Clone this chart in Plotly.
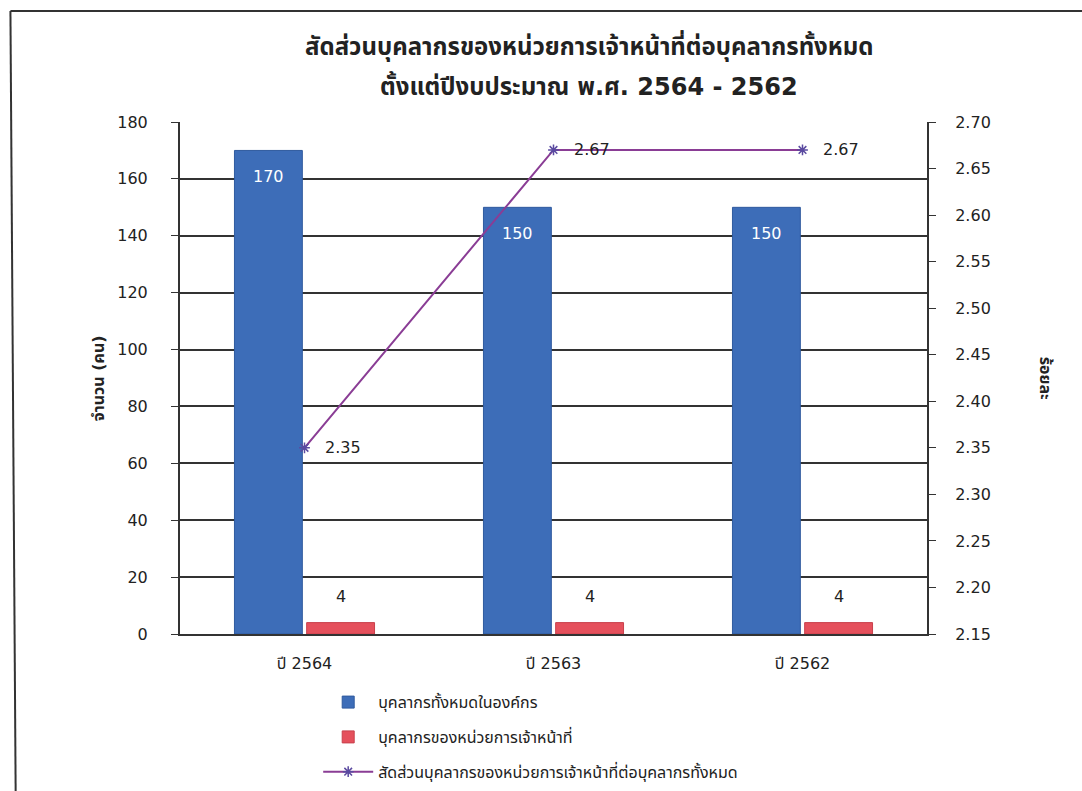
import plotly.graph_objects as go

categories = ["ปี 2564", "ปี 2563", "ปี 2562"]
total_staff = [170, 150, 150]
unit_staff = [4, 4, 4]
ratio_pct = [2.35, 2.67, 2.67]

name_total = "บุคลากรทั้งหมดในองค์กร"
name_unit = "บุคลากรของหน่วยการเจ้าหน้าที่"
name_ratio = "สัดส่วนบุคลากรของหน่วยการเจ้าหน้าที่ต่อบุคลากรทั้งหมด"
title_lines = ["สัดส่วนบุคลากรของหน่วยการเจ้าหน้าที่ต่อบุคลากรทั้งหมด",
               "ตั้งแต่ปีงบประมาณ พ.ศ. 2564 - 2562"]

FONT = "DejaVu Sans, Noto Sans Thai, Tahoma, sans-serif"
TXT = "#222"

fig = go.Figure()
fig.add_trace(go.Bar(
    x=categories, y=total_staff, name=name_total, legendgroup="a",
    marker=dict(color="#3D6DB8", line=dict(color="#2F5A9E", width=1)),
))
fig.add_trace(go.Bar(
    x=categories, y=unit_staff, name=name_unit, legendgroup="b",
    marker=dict(color="#E5505C", line=dict(color="#C8404C", width=1)),
))
fig.add_trace(go.Scatter(
    x=categories, y=ratio_pct, name=name_ratio, yaxis="y2", legendgroup="c",
    mode="lines+markers",
    line=dict(color="#8A3D95", width=2),
    marker=dict(symbol="asterisk-open", size=9, color="#5A4AA0",
                line=dict(color="#5A4AA0", width=1.5)),
    cliponaxis=False,
))

annotations = []
for c, v in zip(categories, total_staff):
    annotations.append(dict(x=c, y=v, xref="x", yref="y", text=str(v),
                            showarrow=False, yshift=-26, xshift=-36,
                            font=dict(size=16, color="white", family=FONT)))
for c, v in zip(categories, unit_staff):
    annotations.append(dict(x=c, y=v, xref="x", yref="y", text=str(v),
                            showarrow=False, yshift=26, xshift=36,
                            font=dict(size=16, color=TXT, family=FONT)))
for c, v in zip(categories, ratio_pct):
    annotations.append(dict(x=c, y=v, xref="x", yref="y2", text=f"{v:.2f}",
                            showarrow=False, xanchor="left", xshift=18,
                            font=dict(size=16, color=TXT, family=FONT)))
annotations.append(dict(x=-0.125, y=0.5, xref="paper", yref="paper",
                        text="<b>จำนวน (คน)</b>", textangle=-90, showarrow=False,
                        font=dict(size=16, color=TXT, family=FONT)))
annotations.append(dict(x=1.175, y=0.5, xref="paper", yref="paper",
                        text="<b>ร้อยละ</b>", textangle=90, showarrow=False,
                        font=dict(size=16, color=TXT, family=FONT)))
annotations.append(dict(x=0.548, y=1.148, xref="paper", yref="paper",
                        yanchor="middle",
                        text="<b>" + title_lines[0] + "</b>", showarrow=False,
                        font=dict(size=24, color=TXT, family=FONT)))
annotations.append(dict(x=0.548, y=1.07, xref="paper", yref="paper",
                        yanchor="middle",
                        text="<b>" + title_lines[1] + "</b>", showarrow=False,
                        font=dict(size=24, color=TXT, family=FONT)))

shapes = [
    dict(type="line", xref="paper", yref="paper", x0=-0.227, x1=1.22,
         y0=1.217, y1=1.217, line=dict(color="#333", width=2)),
    dict(type="line", xref="paper", yref="paper", x0=-0.227, x1=-0.22,
         y0=1.217, y1=-0.31, line=dict(color="#333", width=2)),
]

fig.update_layout(
    width=1082, height=791,
    margin=dict(l=180, r=155, t=122, b=157, autoexpand=False),
    paper_bgcolor="white", plot_bgcolor="white",
    font=dict(family=FONT, size=16, color=TXT),
    barmode="group", bargap=0.42, bargroupgap=0.06,
    xaxis=dict(showgrid=False, showline=True, linecolor="#333", linewidth=2,
               ticks="", tickfont=dict(size=16), ticklabelstandoff=14),
    yaxis=dict(range=[0, 180], dtick=20, showgrid=True, gridcolor="#333",
               gridwidth=1.5, showline=True, linecolor="#333", linewidth=2,
               ticks="outside", ticklen=7, tickcolor="#333", zeroline=False,
               tickfont=dict(size=16), ticklabelstandoff=20),
    yaxis2=dict(range=[2.15, 2.70], dtick=0.05, tickformat=".2f",
                overlaying="y", side="right", showgrid=False, showline=True,
                linecolor="#333", linewidth=2, ticks="outside", ticklen=7,
                tickcolor="#333", zeroline=False, tickfont=dict(size=16),
                ticklabelstandoff=16),
    legend=dict(orientation="v", x=0.185, y=-0.10, xanchor="left",
                yanchor="top", font=dict(size=16), itemwidth=50,
                tracegroupgap=11, bgcolor="rgba(0,0,0,0)"),
    annotations=annotations,
    shapes=shapes,
    showlegend=True,
)

fig.write_html("out.html")
